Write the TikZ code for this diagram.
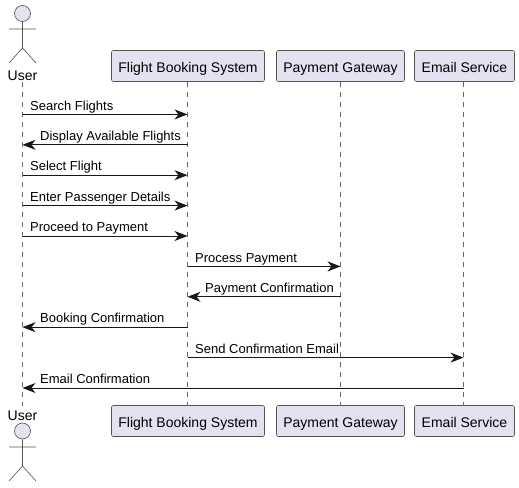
\documentclass[tikz,border=0pt]{standalone}
\usepackage{fontspec}
\setmainfont{Liberation Sans}
\usetikzlibrary{arrows.meta}
\definecolor{partfill}{HTML}{E2E2F0}
\definecolor{partline}{HTML}{181818}
\definecolor{lifecol}{HTML}{666666}

\begin{document}
\begin{tikzpicture}[x=1pt,y=-1pt,
   every node/.style={font=\fontsize{13}{15}\selectfont,text=black},
   part/.style={draw=partline!75,fill=partfill,rounded corners=2pt,line width=0.6pt,
      font=\fontsize{14}{16}\selectfont,minimum height=31pt,inner sep=0pt,
      text height=13.5pt,text depth=1pt,anchor=center},
   lifeline/.style={draw=lifecol,line width=0.6pt,dash pattern=on 5pt off 5pt},
   stick/.style={draw=partline!75,line width=0.6pt},
   actorname/.style={font=\fontsize{14}{16}\selectfont,inner sep=0pt},
   msg/.style={draw=partline,line width=1pt,-{Stealth[length=13pt,width=10pt,inset=4pt]}},
   msgtext/.style={inner sep=0pt,anchor=base west}]
\useasboundingbox (0,0) rectangle (519,487);
% top and bottom boxes
\node[part,minimum width=153pt] (sysTop) at (188,66) {Flight Booking System};
\node[part,minimum width=128pt] (payTop) at (340.5,66) {Payment Gateway};
\node[part,minimum width=100pt] (mailTop) at (464.5,66) {Email Service};
\node[part,minimum width=153pt] (sysBot) at (188,421) {Flight Booking System};
\node[part,minimum width=128pt] (payBot) at (340.5,421) {Payment Gateway};
\node[part,minimum width=100pt] (mailBot) at (464.5,421) {Email Service};
% actor on top
\node[actorname] (userTop) at (22.5,75.8) {User};
\node[circle,draw=partline!75,fill=partfill,line width=0.6pt,minimum size=16pt,inner sep=0pt] (headTop) at (22.5,13.5) {};
\coordinate (hipTop) at (22.5,48);
\coordinate (armLTop) at (9,29);
\coordinate (armRTop) at (36,29);
\coordinate (footLTop) at (9,63);
\coordinate (footRTop) at (36,63);
\draw[stick] (headTop) -- (hipTop) (armLTop) -- (armRTop) (footLTop) -- (hipTop) -- (footRTop);
% actor below
\node[actorname] (userBot) at (22.5,415.8) {User};
\node[circle,draw=partline!75,fill=partfill,line width=0.6pt,minimum size=16pt,inner sep=0pt] (headBot) at (22.5,431) {};
\coordinate (hipBot) at (22.5,466);
\coordinate (armLBot) at (9,447);
\coordinate (armRBot) at (36,447);
\coordinate (footLBot) at (9,481);
\coordinate (footRBot) at (36,481);
\draw[stick] (headBot) -- (hipBot) (armLBot) -- (armRBot) (footLBot) -- (hipBot) -- (footRBot);
% lifelines
\coordinate (userA) at (22.5,82);
\coordinate (userB) at (22.5,406);
\coordinate (sysA) at (187.5,81.5);
\coordinate (sysB) at (187.5,405.5);
\coordinate (payA) at (340.5,81.5);
\coordinate (payB) at (340.5,405.5);
\coordinate (mailA) at (463.5,81.5);
\coordinate (mailB) at (463.5,405.5);
\foreach \who in {user,sys,pay,mail}
   \draw[lifeline] (\who A) -- (\who B);
% messages
\foreach \n/\src/\dst/\ypos/\tx/\msgname in {
   1/userA/sysA/114.4/30/Search Flights,
   2/sysA/userA/144.8/40/Display Available Flights,
   3/userA/sysA/175.2/30/Select Flight,
   4/userA/sysA/205.6/30/Enter Passenger Details,
   5/userA/sysA/236/30/Proceed to Payment,
   6/sysA/payA/266.4/195/Process Payment,
   7/payA/sysA/296.8/205/Payment Confirmation,
   8/sysA/userA/327.2/40/Booking Confirmation,
   9/sysA/mailA/357.6/195/Send Confirmation Email,
   10/mailA/userA/388/40/Email Confirmation}{
   \coordinate (from\n) at (\src |- 0,\ypos);
   \coordinate (to\n) at (\dst |- 0,\ypos);
   \draw[msg] (from\n) -- (to\n);
   \node[msgtext] (label\n) at (\tx,\ypos-4.3) {\msgname};
}
\end{tikzpicture}
\end{document}
